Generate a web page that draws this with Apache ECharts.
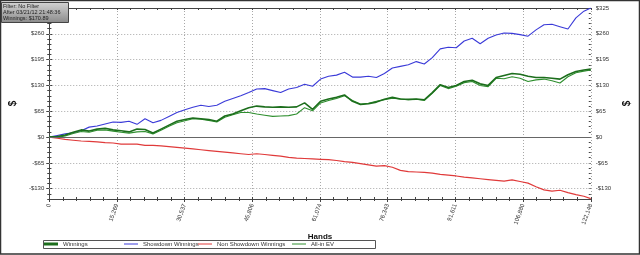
<!DOCTYPE html>
<html><head><meta charset="utf-8">
<script src="https://cdn.jsdelivr.net/npm/echarts@6/dist/echarts.min.js"></script>
<style>html,body{margin:0;padding:0;background:#fff}#c{width:640px;height:255px}</style>
</head><body><div id="c"></div>
<script>
const hands = [0,1800,3600,5400,7200,9000,10800,12600,14400,16200,18000,19800,21600,23400,25200,27000,28800,30600,32400,34200,36000,37800,39600,41400,43200,45000,46800,48600,50400,52200,54000,55800,57600,59400,61200,63000,64800,66600,68400,70200,72000,73800,75600,77400,79200,81000,82800,84600,86400,88200,90000,91800,93600,95400,97200,99000,100800,102600,104400,106200,108000,109800,111600,113400,115200,117000,118800,120600,122148];
const winnings = [0,1,5,12,18,15,20,22,18,16,13,20,19,10,20,30,40,44,48,46,44,40,53,58,66,74,78,76,75,76,75,76,86,70,90,96,100,106,90,82,84,88,95,100,96,95,96,94,112,132,125,130,140,143,134,130,150,155,160,158,153,150,150,148,146,157,165,169,171];
const showdown = [0,4,8,11,16,25,28,33,38,37,40,32,46,36,42,52,62,69,75,80,77,80,90,97,104,112,121,122,117,112,121,125,133,128,146,153,156,163,151,151,153,150,160,174,178,182,190,184,200,222,226,225,242,249,235,249,257,262,261,258,254,270,283,284,278,272,300,317,325];
const nonShowdown = [0,-3,-6,-8,-10,-11,-12,-14,-15,-18,-18,-18,-21,-21,-22,-24,-26,-28,-30,-32,-34,-36,-38,-40,-42,-44,-42,-44,-46,-48,-51,-53,-54,-55,-56,-57,-59,-62,-64,-67,-70,-73,-72,-76,-84,-87,-88,-89,-91,-94,-96,-98,-101,-103,-105,-107,-109,-111,-108,-112,-116,-125,-133,-136,-134,-140,-145,-149,-155];
const allinEV = [0,-1,3,9,14,12,17,18,15,12,10,13,14,8,17,27,36,41,46,45,42,38,50,56,62,62,58,55,52,53,54,58,74,66,86,92,97,104,92,83,85,90,94,98,96,94,95,92,110,130,122,128,137,140,130,127,148,147,152,148,140,144,146,142,136,152,162,166,169];
const xTickValues = [0,15269,30537,45806,61074,76343,91611,106880,122148];
const yTickValues = [-130,-65,0,65,130,195,260,325];
const seriesNames = ['Winnings','Showdown Winnings','Non Showdown Winnings','All-in EV'];
const infoLines = ['Filter: No Filter','After 03/21/12 21:48:36','Winnings: $170.89'];

const X_MIN = 0, X_MAX = 122148, Y_MIN = -156, Y_MAX = 325;
const FONT = 'Liberation Sans';
const pts = arr => hands.map((h, i) => [h, arr[i]]);
const yFmt = v => (v < 0 ? '-$' : '$') + Math.abs(v);
const GRID_LINE = {color:'#a8a8a8', type:[1,2], width:1};

function tickY(position, inside) {
  return {type:'value', min:Y_MIN, max:Y_MAX, interval:13, position,
    axisLine:{show:false}, axisLabel:{show:false}, splitLine:{show:false},
    axisTick:{show:true, inside, length:2, lineStyle:{color:'#444'}}};
}
function tickX(position, inside, line) {
  return {type:'value', min:X_MIN, max:X_MAX, interval:(X_MAX - X_MIN) / 40, position,
    axisLine:{show:line, onZero:false, lineStyle:{color:'#444'}}, axisLabel:{show:false}, splitLine:{show:false},
    axisTick:{show:true, inside, length:2, lineStyle:{color:'#444'}}};
}
function mainY(position, nameGap) {
  return {type:'value', min:Y_MIN, max:Y_MAX, position,
    name:'$', nameLocation:'middle', nameGap, nameRotate:90,
    nameTextStyle:{fontFamily:FONT, fontWeight:'bold', fontSize:10, color:'#111'},
    axisLine:{show:true, lineStyle:{color:'#444'}},
    axisTick:{show:true, length:3, customValues:yTickValues, lineStyle:{color:'#444'}},
    axisLabel:{customValues:yTickValues, formatter:yFmt, fontFamily:FONT, fontSize:6, color:'#333', margin:5},
    splitLine:{show:false}};
}

const chart = echarts.init(document.getElementById('c'), null, {renderer:'canvas'});
const legendPos = [44, 124, 198, 292];
const legendColors = ['#1c6e1c', '#3a3ad8', '#e03a3a', '#2f8f2f'];
const legendH = [3, 1, 1, 1];

chart.setOption({
  animation:false,
  backgroundColor:'#fff',
  grid:{left:43, right:43, top:8, bottom:56},
  xAxis:[
    {type:'value', min:X_MIN, max:X_MAX, position:'bottom',
     name:'Hands', nameLocation:'middle', nameGap:33,
     nameTextStyle:{fontFamily:FONT, fontWeight:'bold', fontSize:8, color:'#111'},
     axisLine:{show:true, onZero:false, lineStyle:{color:'#444'}},
     axisTick:{show:true, length:3, customValues:xTickValues, lineStyle:{color:'#444'}},
     axisLabel:{customValues:xTickValues, rotate:70, fontFamily:FONT, fontSize:6, color:'#333', margin:5},
     splitLine:{show:false}},
    tickX('bottom', false, false),
    tickX('bottom', true, false),
    tickX('top', true, true),
    {type:'value', min:X_MIN, max:X_MAX, interval:(X_MAX - X_MIN) / 8, position:'bottom',
     axisLine:{show:false}, axisTick:{show:false}, axisLabel:{show:false},
     splitLine:{show:true, lineStyle:GRID_LINE}}
  ],
  yAxis:[
    mainY('left', 31),
    mainY('right', 28),
    tickY('left', false), tickY('left', true),
    tickY('right', false), tickY('right', true)
  ],
  legend: seriesNames.map((n, i) => ({
    data:[{name:n, icon:'rect', itemStyle:{color:legendColors[i], borderWidth:0}}],
    left:legendPos[i], top:241, itemWidth:14, itemHeight:legendH[i], itemGap:4, padding:0, z:5,
    selectedMode:false,
    textStyle:{fontFamily:FONT, fontSize:6, color:'#333'}
  })),
  graphic:[
    {type:'rect', z:-1, shape:{x:0.5, y:0.5, width:639, height:253.5}, style:{fill:null, stroke:'#333', lineWidth:1.5}},
    {type:'rect', z:1, shape:{x:43.5, y:240.5, width:332, height:8}, style:{fill:'#fff', stroke:'#555', lineWidth:1}},
    {type:'rect', z:10, shape:{x:1.5, y:2.5, width:67, height:20},
     style:{fill:new echarts.graphic.LinearGradient(0,0,0,1,[{offset:0,color:'#d4d4d4'},{offset:1,color:'#8a8a8a'}]), stroke:'#444', lineWidth:1}},
    ...infoLines.map((t, i) => ({type:'text', z:11, left:3, top:3 + i * 6.3,
      style:{text:t, fontFamily:FONT, fontSize:5.5, fill:'#222'}}))
  ],
  series:[
    {name:seriesNames[2], type:'line', data:pts(nonShowdown), showSymbol:false, color:'#e03a3a',
     lineStyle:{width:1.2, color:'#e03a3a'},
     markLine:{silent:true, symbol:'none', label:{show:false}, lineStyle:{color:'#666', type:'solid', width:1}, data:[{yAxis:0}]}},
    {name:seriesNames[1], type:'line', data:pts(showdown), showSymbol:false, color:'#3a3ad8',
     lineStyle:{width:1.1, color:'#3a3ad8'},
     markLine:{silent:true, symbol:'none', label:{show:false}, lineStyle:GRID_LINE, z:1,
       data:yTickValues.filter(v => v !== 0 && v !== Y_MAX).map(v => ({yAxis:v}))}},
    {name:seriesNames[3], type:'line', data:pts(allinEV), showSymbol:false, color:'#2f8f2f',
     lineStyle:{width:1.1, color:'#2f8f2f'}},
    {name:seriesNames[0], type:'line', data:pts(winnings), showSymbol:false, color:'#1c6e1c',
     lineStyle:{width:1.6, color:'#1c6e1c'}}
  ]
});
</script></body></html>
